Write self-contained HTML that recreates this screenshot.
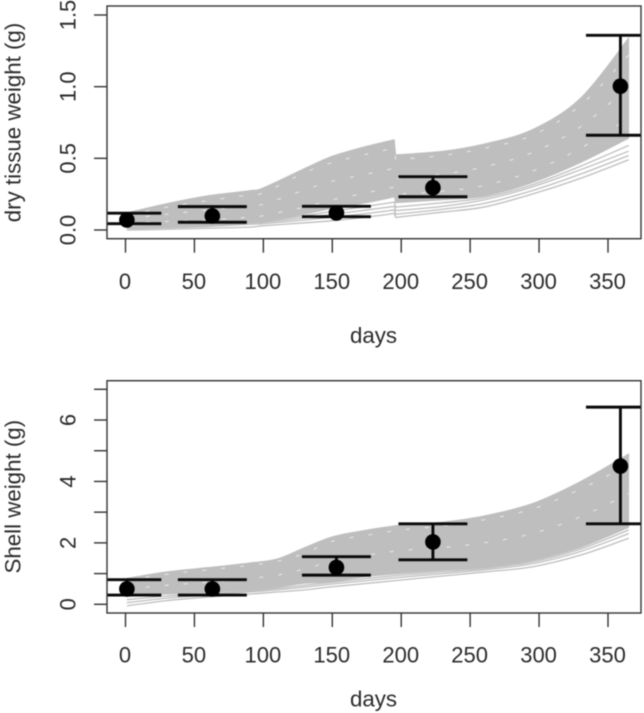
<!DOCTYPE html>
<html>
<head>
<meta charset="utf-8">
<title>Dry tissue and shell weight over days</title>
<style>
html,body{margin:0;padding:0;background:#fff;width:644px;height:713px;overflow:hidden}
svg{display:block;filter:blur(.4px)}
text{font-family:"Liberation Sans",sans-serif;fill:#2b2b2b}
</style>
</head>
<body>
<svg id="chart" width="644" height="713" viewBox="0 0 644 713" xmlns="http://www.w3.org/2000/svg">
<defs>
<clipPath id="clip-top"><rect x="107" y="6" width="534" height="232.7"/></clipPath>
<clipPath id="clip-bottom"><rect x="107" y="380.7" width="534" height="232.3"/></clipPath>
</defs>
</svg>
<script>
// ---- shared data ----
const xTicks = [0, 50, 100, 150, 200, 250, 300, 350];
const obsDays = [1, 63, 153, 223, 359];
const capHalfDays = 25;

// ---- top panel: dry tissue weight ----
const topTicks = [0, 0.5, 1, 1.5];
const topTickLabels = ['0.0', '0.5', '1.0', '1.5'];
const topDays = [1, 30, 60, 90, 100, 130, 150, 175, 195, 196, 230, 260, 295, 330, 365];
const topBandUpper = [.12, .185, .24, .275, .295, .43, .515, .585, .63, .525, .55, .60, .70, .92, 1.34];
const topBandLower = [.03, .025, .03, .05, .06, .11, .15, .19, .23, .19, .21, .235, .33, .47, .64];
const topLine1 = [0, .005, .012, .02, .03, .05, .065, .09, .116, .088, .125, .16, .25, .36, .49];
const topLine2 = [.01, .015, .025, .04, .045, .07, .09, .115, .14, .11, .145, .185, .275, .39, .52];
const topLine3 = [.015, .02, .03, .05, .055, .085, .11, .14, .165, .135, .165, .21, .30, .42, .55];
const topLine4 = [.02, .025, .035, .05, .06, .10, .13, .165, .195, .16, .19, .225, .315, .445, .59];
const topGap1 = [.10, .16, .205, .245, .26, .40, .47, .53, .57, .49, .52, .57, .66, .87, 1.22];
const topGap2 = [.05, .06, .07, .09, .10, .16, .21, .26, .30, .25, .27, .31, .41, .57, .78];
const topGap3 = [.08, .11, .14, .17, .18, .28, .34, .39, .43, .36, .39, .44, .54, .72, 1.00];
const topObs = [0.07, 0.098, 0.119, 0.295, 1.003];
const topObsHigh = [0.117, 0.163, 0.165, 0.372, 1.358];
const topObsLow = [0.044, 0.054, 0.093, 0.232, 0.661];

// ---- bottom panel: shell weight ----
const bottomTicks = [0, 1, 2, 3, 4, 5, 6, 7];
const bottomTickLabels = ['0', '', '2', '', '4', '', '6', ''];
const bottomDays = [1, 30, 60, 90, 110, 130, 150, 175, 200, 230, 260, 295, 330, 365];
const bottomBandUpper = [.85, 1.06, 1.2, 1.35, 1.48, 1.85, 2.2, 2.42, 2.58, 2.68, 2.88, 3.28, 4.0, 4.9];
const bottomBandLower = [.25, .33, .38, .47, .55, .68, .74, .9, 1.0, 1.1, 1.2, 1.42, 1.85, 2.5];
const bottomLine1 = [-.05, .12, .24, .33, .4, .47, .57, .68, .79, .92, 1.05, 1.22, 1.6, 2.15];
const bottomLine2 = [.05, .2, .3, .4, .47, .56, .66, .77, .88, 1.0, 1.12, 1.32, 1.72, 2.3];
const bottomLine3 = [.15, .27, .34, .44, .52, .62, .72, .84, .95, 1.06, 1.17, 1.38, 1.8, 2.42];
const bottomGap1 = [.78, .98, 1.12, 1.27, 1.4, 1.66, 2.05, 2.25, 2.42, 2.55, 2.75, 3.1, 3.75, 4.55];
const bottomGap2 = [.5, .62, .72, .84, .95, 1.15, 1.4, 1.6, 1.75, 1.85, 2.0, 2.3, 2.85, 3.6];
const bottomObs = [0.5, 0.5, 1.2, 2.03, 4.5];
const bottomObsHigh = [0.8, 0.8, 1.55, 2.62, 6.42];
const bottomObsLow = [0.3, 0.3, 0.95, 1.45, 2.62];

// ---- axis functions ----
const x = d => 125.5 + (d - 0) * (608 - 125.5) / 350;
const yTop = v => 230 + (v - 0) * (15 - 230) / 1.5;
const yBottom = v => 604.3 + (v - 0) * (389.3 - 604.3) / 7;

const svg = document.getElementById('chart');
const NS = 'http://www.w3.org/2000/svg';
function make(tag, attrs, parent) {
  const node = document.createElementNS(NS, tag);
  for (const k in attrs) node.setAttribute(k, attrs[k]);
  (parent || svg).appendChild(node);
  return node;
}
// Smooth curve through the data; a one-day step is kept as a hard jump.
function pathOf(days, vals, y, cmd) {
  const pts = days.map((d, i) => [x(d), y(vals[i])]);
  const isJump = i => i >= 0 && i < days.length - 1 && Math.abs(days[i + 1] - days[i]) <= 1;
  let s = (cmd || 'M') + pts[0][0].toFixed(2) + ' ' + pts[0][1].toFixed(2);
  for (let i = 0; i < pts.length - 1; i++) {
    const p1 = pts[i], p2 = pts[i + 1];
    if (isJump(i)) { s += ' L' + p2[0].toFixed(2) + ' ' + p2[1].toFixed(2); continue; }
    const p0 = (i > 0 && !isJump(i - 1)) ? pts[i - 1] : p1;
    const p3 = (i < pts.length - 2 && !isJump(i + 1)) ? pts[i + 2] : p2;
    const c1x = p1[0] + (p2[0] - p0[0]) / 6, c1y = p1[1] + (p2[1] - p0[1]) / 6;
    const c2x = p2[0] - (p3[0] - p1[0]) / 6, c2y = p2[1] - (p3[1] - p1[1]) / 6;
    s += ' C' + [c1x, c1y, c2x, c2y, p2[0], p2[1]].map(n => n.toFixed(2)).join(' ');
  }
  return s;
}

function drawPanel(cfg) {
  const g = make('g', {});
  
  
  const plot = make('g', { 'clip-path': 'url(#' + cfg.clip + ')' }, g);
  
  

  // outlying trajectories
  cfg.lines.forEach(vals => {
    const l = make('path', { d: pathOf(cfg.days, vals, cfg.y), fill: 'none', stroke: '#bebebe', 'stroke-width': 1.3 }, plot);
    
    
  });

  // dense ensemble of trajectories
  const up = pathOf(cfg.days, cfg.upper, cfg.y);
  const low = pathOf(cfg.days.slice().reverse(), cfg.lower.slice().reverse(), cfg.y, 'L');
  const band = make('path', { d: up + ' ' + low + ' Z', fill: '#bebebe', stroke: '#bebebe', 'stroke-width': 0.8 }, plot);
  
  

  // pale gaps between trajectories
  cfg.gaps.forEach(vals => {
    const l = make('path', { d: pathOf(cfg.days, vals, cfg.y), fill: 'none', stroke: '#fff', 'stroke-width': 0.9, 'stroke-dasharray': '4 15', opacity: 0.75 }, plot);
    
    
  });

  // observations with error bars
  obsDays.forEach((d, i) => {
    const ob = make('g', { stroke: '#0a0a0a', 'stroke-width': 2.9, fill: '#000' }, plot);
    
    
    make('line', { x1: x(d), x2: x(d), y1: cfg.y(cfg.high[i]), y2: cfg.y(cfg.low[i]) }, ob);
    make('line', { x1: x(d - capHalfDays), x2: x(d + capHalfDays), y1: cfg.y(cfg.high[i]), y2: cfg.y(cfg.high[i]) }, ob);
    make('line', { x1: x(d - capHalfDays), x2: x(d + capHalfDays), y1: cfg.y(cfg.low[i]), y2: cfg.y(cfg.low[i]) }, ob);
    make('circle', { cx: x(d), cy: cfg.y(cfg.obs[i]), r: 7.8, stroke: 'none' }, ob);
  });

  // frame
  const frame = make('rect', { x: 107, y: cfg.boxTop, width: 534, height: cfg.boxBottom - cfg.boxTop, fill: 'none', stroke: '#333', 'stroke-width': 1.4 }, g);
  
  

  // x axis
  xTicks.forEach(t => {
    const tick = make('line', { x1: x(t), x2: x(t), y1: cfg.boxBottom, y2: cfg.boxBottom + 14, stroke: '#333', 'stroke-width': 1.4 }, g);
    
    
    const lab = make('text', { x: x(t) - 0.5, y: cfg.xLabelY, 'text-anchor': 'middle', 'font-size': 22 }, g);
    lab.textContent = String(t);
    
    
  });
  const xt = make('text', { x: 373.5, y: cfg.xTitleY, 'text-anchor': 'middle', 'font-size': 22.3 }, g);
  xt.textContent = 'days';
  
  

  // y axis
  cfg.ticks.forEach((t, i) => {
    const yy = cfg.y(t);
    const tick = make('line', { x1: 94, x2: 107, y1: yy, y2: yy, stroke: '#333', 'stroke-width': 1.4 }, g);
    
    
    if (cfg.tickLabels[i]) {
      const lab = make('text', { x: 0, y: 0, 'text-anchor': 'middle', 'font-size': 22, transform: 'translate(75.5,' + yy.toFixed(2) + ') rotate(-90)' }, g);
      lab.textContent = cfg.tickLabels[i];
      
      
    }
  });
  const yt = make('text', { x: 0, y: 0, 'text-anchor': 'middle', 'font-size': 22.3, transform: 'translate(20.5,' + cfg.yTitleCenter + ') rotate(-90)' }, g);
  yt.textContent = cfg.yTitle;
  
  
}

drawPanel({
  name: 'dry-tissue', clip: 'clip-top', y: yTop, boxTop: 6, boxBottom: 238.7,
  days: topDays, upper: topBandUpper, lower: topBandLower,
  lines: [topLine1, topLine2, topLine3, topLine4], gaps: [topGap1, topGap2, topGap3],
  obs: topObs, high: topObsHigh, low: topObsLow,
  ticks: topTicks, tickLabels: topTickLabels,
  xLabelY: 289, xTitleY: 343, yTitle: 'dry tissue weight (g)', yTitleCenter: 122.5
});
drawPanel({
  name: 'shell', clip: 'clip-bottom', y: yBottom, boxTop: 380.7, boxBottom: 613,
  days: bottomDays, upper: bottomBandUpper, lower: bottomBandLower,
  lines: [bottomLine1, bottomLine2, bottomLine3], gaps: [bottomGap1, bottomGap2],
  obs: bottomObs, high: bottomObsHigh, low: bottomObsLow,
  ticks: bottomTicks, tickLabels: bottomTickLabels,
  xLabelY: 662.5, xTitleY: 706.5, yTitle: 'Shell weight (g)', yTitleCenter: 496.7
});
</script>
</body>
</html>
